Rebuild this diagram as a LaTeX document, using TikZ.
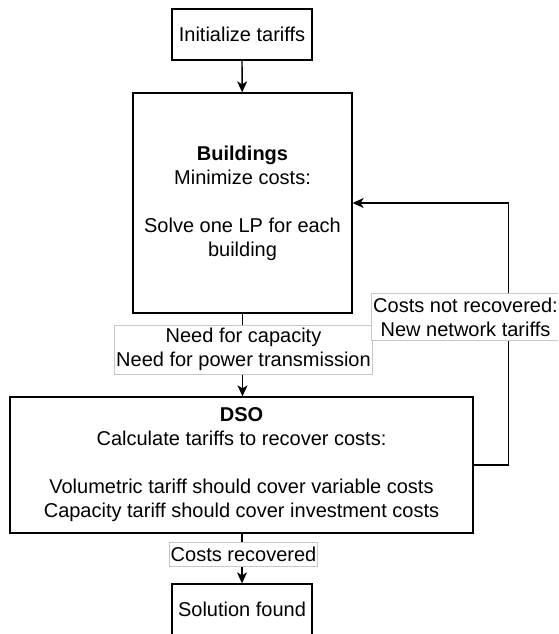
\documentclass[tikz,border=0pt]{standalone}
\usepackage{fontspec}
\setmainfont{Liberation Sans}
\usetikzlibrary{arrows.meta}
\newcommand\diagfont{\fontsize{20}{24}\selectfont}
\begin{document}
\begin{tikzpicture}[x=1pt,y=-1pt,
  box/.style={draw=black, line width=1.3pt, fill=white, inner sep=0pt, align=center, font=\diagfont},
  lbl/.style={fill=white, draw=black!22, line width=0.7pt, inner xsep=1.5pt, inner ysep=0pt, align=center, font=\diagfont},
  arr/.style={line width=1.3pt, -{Stealth[length=11pt,width=10pt,inset=3pt]}}]
\useasboundingbox (0,0) rectangle (558,634);
\clip (0,0) rectangle (558,634);

% process boxes
\node[box, minimum width=140pt, minimum height=51pt] (init) at (242,34.5) {Initialize tariffs};
\node[box, minimum width=219pt, minimum height=220pt] (bld) at (242.5,203)
  {\textbf{Buildings}\\Minimize costs:\\[24pt]Solve one LP for each\\building};
\node[box, minimum width=463pt, minimum height=136pt] (dso) at (241.5,465)
  {\textbf{DSO}\\Calculate tariffs to recover costs:\\[24pt]Volumetric tariff should cover variable costs\\Capacity tariff should cover investment costs};
\node[box, minimum width=140pt, minimum height=51pt] (sol) at (242,609.5) {Solution found};

% connectors
\draw[arr] (init) -- (bld);
\draw[arr] (bld.south) -- (bld.south |- dso.north);
\draw[arr] (dso.south -| sol.north) -- (sol.north);
\draw[arr] (dso.east) -- ++(35,0) |- (bld.east);

% connector labels
\node[lbl, minimum height=49pt] (needs) at (243.5,349.5) {Need for capacity\\Need for power transmission};
\node[lbl, minimum height=24pt] (ok) at (243.5,554) {Costs recovered};
\node[lbl, minimum height=47pt] (notok) at (465.5,317) {Costs not recovered:\\New network tariffs};
\end{tikzpicture}
\end{document}
